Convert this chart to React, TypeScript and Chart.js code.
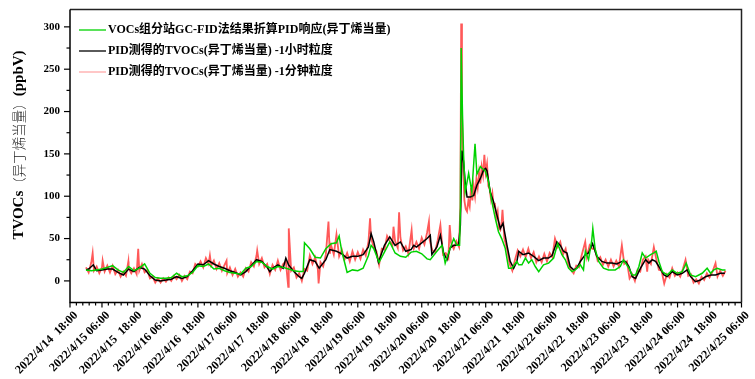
import React, { useEffect, useRef } from "react";
import { Chart, registerables } from "chart.js";

Chart.register(...registerables);

// Hours counted from 2022/4/14 18:00
const xTickLabels = [
  "2022/4/14  18:00", "2022/4/15 06:00", "2022/4/15  18:00", "2022/4/16 06:00",
  "2022/4/16  18:00", "2022/4/17 06:00", "2022/4/17  18:00", "2022/4/18 06:00",
  "2022/4/18  18:00", "2022/4/19 06:00", "2022/4/19  18:00", "2022/4/20 06:00",
  "2022/4/20  18:00", "2022/4/21 06:00", "2022/4/21  18:00", "2022/4/22 06:00",
  "2022/4/22  18:00", "2022/4/23 06:00", "2022/4/23  18:00", "2022/4/24 06:00",
  "2022/4/24  18:00", "2022/4/25 06:00",
];
const yTickValues = [0, 50, 100, 150, 200, 250, 300];

const legendLabels = [
  "VOCs组分站GC-FID法结果折算PID响应(异丁烯当量)",
  "PID测得的TVOCs(异丁烯当量) -1小时粒度",
  "PID测得的TVOCs(异丁烯当量) -1分钟粒度",
];

const greenGcFid: [number, number][] = [
  [6,13],[8,12],[10,13],[12,14],[14,16],[16,18],[18,13],[20,10],[22,17],[24,12],[26,15],[28,20],[30,9],[32,4],[34,3],[36,3],[38,4],[40,9],[42,5],[44,6],[46,10],[48,18],[50,17],[52,20],[54,14],[56,15],[58,12],[60,10],[62,9],[64,8],
  [66,15],[68,17],[70,23],[72,22],[74,17],[76,14],[78,17],[80,16],[82,14],[84,12],[86,11],[87.5,11],[88,45],[90,38],[92,28],[94,27],[96,38],[98,44],[100,45],[101,53],[102,35],[104,10],[106,13],[108,12],[110,15],[112,30],[113,42],[114,38],[116,22],[118,34],[120,46],[122,33],[124,29],[126,28],[128,34],[130,35],
  [132,32],[134,26],[135.2,25],[137.7,35],[139.6,42],[140.8,21],[142.7,39],[144,50],[145.2,42],[146.2,42],[146.5,85],[146.8,275],[147.3,196],[147.7,149],[148.3,105],[148.9,115],[149.6,127],[150.8,105],[152,162],[152.7,126],[154,135],[154.6,133],[155.8,130],[157,118],[158.3,94],[159.6,74],[160.8,58],[162,50],[163.3,39],[164.6,15],[165.8,15],[167.7,23],
  [168.4,19],[169.6,19],[170.9,27],[172.1,21],[173.3,25],[174.6,17],[175.9,11],[177.7,19],[179.6,21],[181.5,27],[183,44],[184.6,31],[185.9,25],[187.1,15],[188.4,11],[189.6,13],[191.5,19],[192.7,13],[193.4,35],[194.6,25],[195.8,48],[196.2,62],[197.1,37],[198.4,23],[200.2,15],[202.1,13],[204.6,13],[206.5,17],[207.7,25],
  [208.5,21],[209.75,15],[211,7],[212.25,7],[213.5,17],[214.75,33],[216,27],[217.9,31],[219.1,33],[220,35],[221,23],[222.25,11],[224.1,7],[226,13],[227.9,9],[229.75,11],[231.25,21],[232.9,7],[234.75,5],[237.25,9],[239.1,15],[240.4,9],[241.6,13],[242.9,15],[244.75,13],[246,13],
];

const blackPidHour: [number, number][] = [
  [6,13],[7,14],[8.75,19],[10,12],[12,13],[14,14],[16,14],[18,10],[20,7],[22,14],[24,11],[26,16],[27,15],[28,14],[30,6],[32,1],[34,0],[36,1],[38,2],[40,5],[42,3],[44,5],[46,12],[48,20],[50,19],[52,24],[54,20],[56,17],[58,15],[60,12],[62,10],[64,7],
  [66,11],[68,18],[70,25],[72,23],[74,16],[75,11],[76,15],[78,19],[80,15],[81,27],[82,19],[84,11],[86,5],[87,3],[88,9],[90,25],[92,23],[93.5,15],[96,25],[97.5,37],[100,35],[102,32],[104,27],[106,29],[108,29],[110,31],[112,40],[113,56],[114,46],[115.75,22],[118,42],[120,52],[122,42],[124,46],[126,35],[128,37],[129,42],[130,40],
  [132,45],[134,50],[135.2,54],[135.8,31],[137.7,40],[139,54],[140.2,33],[141.5,25],[142.7,39],[144,42],[145.8,42],[146.5,66],[147.1,154],[147.7,141],[148.3,117],[149,99],[150.2,99],[151.5,101],[152.7,113],[154,121],[155.2,131],[156,133],[156.5,130],[157.7,105],[159,93],[160.2,78],[161.5,62],[162.5,68],[164,42],[165.2,23],[166.5,15],[167.7,23],
  [168.4,35],[170,31],[172.1,33],[174,29],[175.9,24],[177.7,27],[179.6,27],[180.9,30],[182.7,46],[184,42],[185.2,35],[186.5,33],[187.7,17],[189,13],[190.2,15],[191.5,23],[193.4,31],[194.6,33],[196.1,44],[197.7,29],[199.6,23],[201.5,21],[203.4,21],[205.2,20],[207.1,23],
  [208.5,23],[209.75,17],[211,5],[212.25,3],[214.1,15],[216,25],[217.25,21],[218.5,25],[219.75,23],[221,17],[222.9,7],[224.1,5],[226,11],[227.9,7],[229.75,9],[231.6,13],[232.9,5],[234.75,-1],[236.6,1],[238.5,5],[240.4,7],[242.25,7],[244.1,9],[245.75,9],
];

const redPidMinute: [number, number][] = [
  [6,16],[7,10],[8,22],[8.5,33],[9,12],[10,17],[11,9],[12,16],[12.25,24],[13,11],[14,18],[15,10],[16,18],[17,8],[18,13],[19,5],[20,11],[21,6],[21.9,23],[22,15],[23,9],[24,15],[25,8],[25.6,38],[26,12],[27,20],[28,10],[29,13],[30,3],[31,5],[32,-2],[33,3],[34,-2],[35,3],[36,-1],[37,4],[38,0],[39,6],[40,2],[41,7],[42,0],[43,6],[44,2],[45,11],[46,9],[47,20],[48,17],[49,23],[50,16],[51,27],[52,20],[52.5,30],[53,18],[54,24],[55,14],[56,21],[57,12],[58,19],[58.75,24],[59,9],[60,16],[61,7],[62,14],[63,5],[64,10],[65,5],[66,15],[67,11],[68,22],[69,17],[70,30],[70.25,36],[71,20],[72,27],[73,16],[74,20],[75,8],[76,19],[77,13],[78,24],[79,13],[80,20],[81,23],[81.9,-7],[82.1,62],[83,12],[84,16],[85,4],[86,9],[87,0],[88,14],[89,12],[90,30],[91,20],[92,28],[93,14],[93.3,-3],[94,22],[95,17],[96,31],[97,70],[97.5,32],[98,42],[99,31],[100,55],[101,29],[102,37],[103,25],[104,33],[105,23],[106,35],[107,25],[108,34],[109,26],[110,37],[111,30],[112,46],[112.6,74],[113,50],[114,40],[115,35],[116,19],[117,38],[118,37],[119,53],[120,47],[121,42],[121.4,64],[122,47],[123,39],[123.5,81],[124,51],[125,36],[126,41],[127,32],[128.2,60],[128.6,42],[129,38],[130,46],[131,38],[132,51],[133,43],[134,57],[134.7,70],[135,48],[136,36],[137,34],[138,48],[139,66],[140,31],[141,33],[142,27],[142.5,66],[143,45],[144,38],[145,47],[146,40],[146.5,90],[146.8,304],[147.1,200],[147.5,140],[148,95],[148.5,85],[149,82],[149.5,95],[150,88],[150.5,110],[151,95],[151.5,112],[152,100],[152.5,120],[153,110],[153.5,128],[154,115],[154.5,135],[155,125],[155.5,149],[156,128],[156.5,138],[157,112],[157.5,108],[158,96],[158.5,104],[159,88],[159.5,90],[160,75],[160.5,82],[161,62],[161.5,60],[162,70],[162.3,84],[163,50],[164,38],[165,20],[166,12],[167,25],[168,36],[169,29],[170,37],[171,28],[172,38],[173,27],[174,34],[175,22],[176,29],[177,22],[178,32],[179,23],[180,33],[181,28],[182,50],[183,40],[184,46],[185,31],[186,38],[187,20],[188,13],[189,9],[190,18],[191,16],[192,30],[193.35,46],[194,28],[195,42],[196,38],[197,38],[198,24],[199,28],[200,19],[201,25],[202,17],[203,25],[204,17],[205,24],[206,17],[207.1,42],[208,20],[209,23],[210,3],[211,8],[212,0],[213,13],[214,11],[215,25],[216,29],[216.6,11],[217,25],[218,20],[219.1,40],[220,26],[221,13],[222,12],[223,-3],[224,8],[225,4],[226,15],[227,6],[228,10],[229,5],[230,14],[231,25],[232,6],[233,8],[234,-2],[235,2],[236,-3],[237,5],[238,1],[239,9],[240,4],[241,10],[242.25,21],[243,5],[244,12],[245,6],[246,12],
];

const GREEN = "rgb(0,210,0)";
const BLACK = "#000000";
const RED = "rgba(255,25,25,0.72)";
const RED_LEGEND = "rgba(255,120,120,0.55)";
const SERIF = "'Liberation Serif', 'Noto Sans CJK SC', serif";

const toXY = (arr: [number, number][]) => arr.map(([x, y]) => ({ x, y }));

const decorPlugin = {
  id: "decor",
  afterDraw(chart: any) {
    const { ctx, chartArea } = chart;
    const xs = chart.scales.x;
    const ys = chart.scales.y;
    const { left, right, top, bottom } = chartArea;
    ctx.save();
    // frame
    ctx.strokeStyle = "#222";
    ctx.lineWidth = 1.5;
    ctx.beginPath();
    ctx.moveTo(left, top);
    ctx.lineTo(right, top);
    ctx.lineTo(right, bottom);
    ctx.stroke();
    ctx.strokeStyle = "#000";
    ctx.lineWidth = 1.5;
    ctx.beginPath();
    ctx.moveTo(left, top);
    ctx.lineTo(left, bottom);
    ctx.lineTo(right, bottom);
    ctx.stroke();

    // y ticks
    ctx.lineWidth = 1.2;
    const yMin = ys.min, yMax = ys.max;
    for (let v = 0; v <= yMax; v += 25) {
      if (v < yMin) continue;
      const py = ys.getPixelForValue(v);
      const major = v % 50 === 0;
      ctx.beginPath();
      ctx.moveTo(left, py);
      ctx.lineTo(left - (major ? 6 : 3.5), py);
      ctx.stroke();
    }
    ctx.fillStyle = "#000";
    ctx.font = `bold 11px ${SERIF}`;
    ctx.textAlign = "right";
    ctx.textBaseline = "middle";
    yTickValues.forEach((v) => {
      ctx.fillText(String(v), left - 10, ys.getPixelForValue(v));
    });

    // x ticks
    const nMajor = xTickLabels.length;
    for (let i = 0; i < nMajor; i++) {
      const px = xs.getPixelForValue(i * 12);
      ctx.beginPath();
      ctx.moveTo(px, bottom);
      ctx.lineTo(px, bottom + 5);
      ctx.stroke();
      if (i < nMajor - 1) {
        for (let k = 1; k < 5; k++) {
          const pm = xs.getPixelForValue(i * 12 + k * 2.4);
          ctx.beginPath();
          ctx.moveTo(pm, bottom);
          ctx.lineTo(pm, bottom + 3);
          ctx.stroke();
        }
      }
    }
    ctx.font = `bold 12px ${SERIF}`;
    ctx.textAlign = "right";
    ctx.textBaseline = "middle";
    xTickLabels.forEach((lab, i) => {
      const px = xs.getPixelForValue(i * 12);
      ctx.save();
      ctx.translate(px + 6, bottom + 11);
      ctx.rotate(-Math.PI / 4);
      ctx.fillText(lab, 0, 0);
      ctx.restore();
    });

    // legend
    const legendColors = [GREEN, BLACK, RED_LEGEND];
    const rowsY = [30, 51, 72];
    ctx.textAlign = "left";
    ctx.textBaseline = "middle";
    ctx.font = `bold 12px ${SERIF}`;
    legendLabels.forEach((lab, i) => {
      const ly = rowsY[i];
      ctx.strokeStyle = legendColors[i];
      ctx.lineWidth = i === 2 ? 1.5 : 1.3;
      ctx.beginPath();
      ctx.moveTo(left + 9, ly);
      ctx.lineTo(left + 36, ly);
      ctx.stroke();
      ctx.fillStyle = "#000";
      ctx.fillText(lab, left + 38, ly);
    });

    // y title
    const parts = [
      { t: "TVOCs", f: `bold 15px ${SERIF}`, c: "#000" },
      { t: "（异丁烯当量）", f: `300 13.5px 'Noto Sans CJK SC', sans-serif`, c: "#222" },
      { t: "(ppbV)", f: `bold 15px ${SERIF}`, c: "#000" },
    ];
    let total = 0;
    const widths = parts.map((p) => {
      ctx.font = p.f;
      const w = ctx.measureText(p.t).width;
      total += w;
      return w;
    });
    ctx.save();
    ctx.translate(19, 145);
    ctx.rotate(-Math.PI / 2);
    ctx.textAlign = "left";
    ctx.textBaseline = "middle";
    let cx = -total / 2;
    parts.forEach((p, i) => {
      ctx.font = p.f;
      ctx.fillStyle = p.c;
      ctx.fillText(p.t, cx, 0);
      cx += widths[i];
    });
    ctx.restore();

    ctx.restore();
  },
};

export default function App() {
  const ref = useRef<HTMLCanvasElement>(null);
  useEffect(() => {
    document.body.style.margin = "0";
    const canvas = ref.current;
    if (!canvas) return;
    const chart = new Chart(canvas, {
      type: "line",
      data: {
        datasets: [
          {
            label: legendLabels[0],
            data: toXY(greenGcFid),
            borderColor: GREEN,
            borderWidth: 1.5,
            pointRadius: 0,
            tension: 0,
            order: 0,
          },
          {
            label: legendLabels[1],
            data: toXY(blackPidHour),
            borderColor: BLACK,
            borderWidth: 1.5,
            pointRadius: 0,
            tension: 0,
            order: 1,
          },
          {
            label: legendLabels[2],
            data: toXY(redPidMinute),
            borderColor: RED,
            borderWidth: 1.8,
            pointRadius: 0,
            tension: 0,
            order: 2,
          },
        ],
      },
      options: {
        responsive: false,
        animation: false,
        layout: { padding: { left: 70, right: 13.5, top: 9.5, bottom: 76.5 } },
        scales: {
          x: { type: "linear", min: 0, max: 252, display: false },
          y: { type: "linear", min: -25.5, max: 320.5, display: false },
        },
        plugins: {
          legend: { display: false },
          tooltip: { enabled: false },
        },
      },
      plugins: [decorPlugin],
    });
    return () => chart.destroy();
  }, []);
  return (
    <canvas
      ref={ref}
      width={755}
      height={379}
      style={{ display: "block", width: 755, height: 379 }}
    />
  );
}
